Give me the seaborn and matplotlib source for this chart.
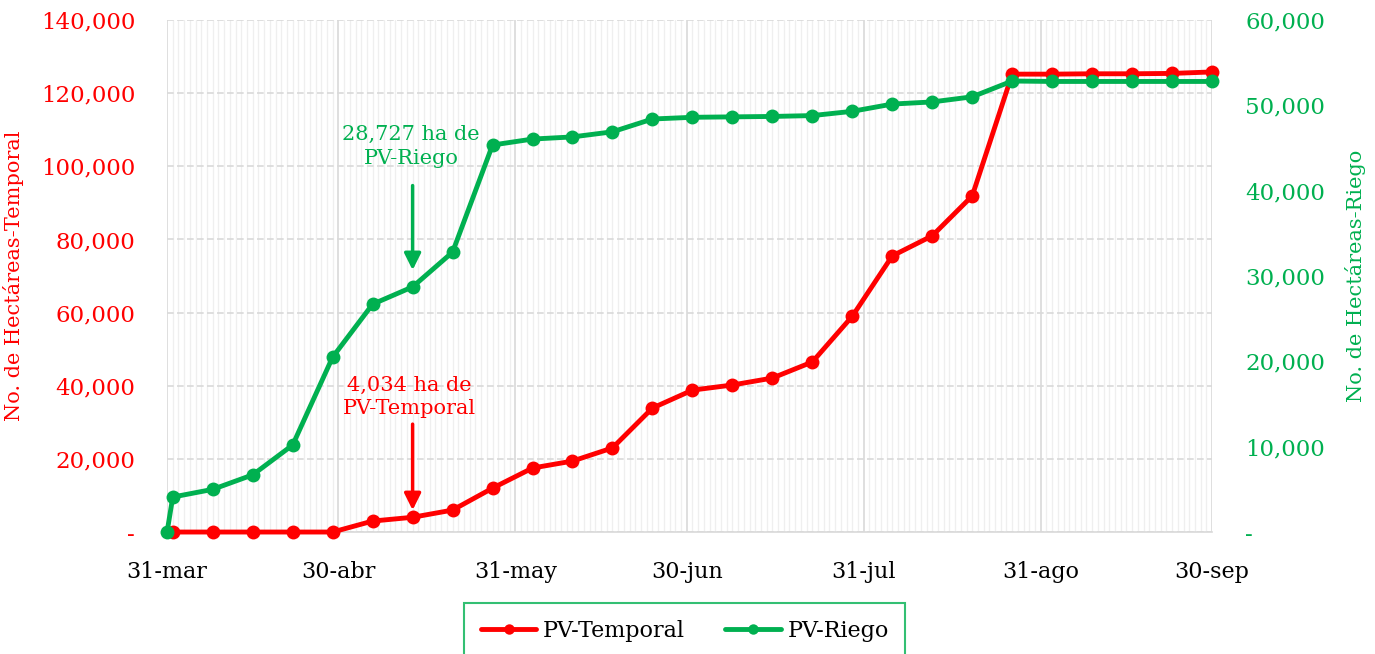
import pandas as pd
import seaborn as sns
import matplotlib.pyplot as plt
import matplotlib.dates as mdates
from matplotlib.ticker import FixedLocator, FuncFormatter

# fechas semanales (1-abr ... 30-sep)
fechas = pd.date_range('2023-04-01', '2023-09-30', freq='7D')

temporal = [0, 0, 0, 0, 0, 3000, 4034, 6000, 12000, 17500, 19400, 23000, 33900,
            38800, 40200, 42100, 46500, 59000, 75500, 81000, 91900, 125200,
            125200, 125300, 125300, 125400, 125800]

riego_fechas = [pd.Timestamp('2023-03-31')] + list(fechas)
riego = [0, 4100, 5000, 6700, 10200, 20500, 26700, 28727, 32800, 45350, 46050,
         46300, 46900, 48400, 48600, 48650, 48700, 48800, 49300, 50150, 50400,
         51000, 52850, 52800, 52800, 52800, 52800, 52800]

mes_ticks = ['2023-03-31', '2023-04-30', '2023-05-31', '2023-06-30',
             '2023-07-31', '2023-08-31', '2023-09-30']
mes_labels = ['31-mar', '30-abr', '31-may', '30-jun', '31-jul', '31-ago', '30-sep']

ROJO = '#FF0000'
VERDE = '#00B050'

sns.set_style('white')
plt.rcParams['font.family'] = ['DejaVu Serif']
plt.rcParams['font.size'] = 14

df_t = pd.DataFrame({'fecha': fechas, 'ha': temporal})
df_r = pd.DataFrame({'fecha': riego_fechas, 'ha': riego})

fig, ax = plt.subplots(figsize=(13.75, 6.54), dpi=100)
fig.subplots_adjust(left=0.1215, right=0.8815, top=0.9694, bottom=0.1865)
ax2 = ax.twinx()

sns.lineplot(data=df_t, x='fecha', y='ha', ax=ax, color=ROJO, marker='o',
             markersize=10, markeredgewidth=0, linewidth=3.5, label='PV-Temporal',
             legend=False, clip_on=False, zorder=5)
sns.lineplot(data=df_r, x='fecha', y='ha', ax=ax2, color=VERDE, marker='o',
             markersize=10, markeredgewidth=0, linewidth=3.5, label='PV-Riego',
             legend=False, clip_on=False, zorder=5)

x0, x1 = mdates.date2num(pd.Timestamp(mes_ticks[0])), mdates.date2num(pd.Timestamp(mes_ticks[-1]))
ax.set_xlim(x0, x1)
ax.set_ylim(0, 140000)
ax2.set_ylim(0, 60000)

fmt = FuncFormatter(lambda v, p: '-' if v == 0 else f'{v:,.0f}')
ax.set_yticks(range(0, 140001, 20000))
ax2.set_yticks(range(0, 60001, 10000))
ax.yaxis.set_major_formatter(fmt)
ax2.yaxis.set_major_formatter(fmt)

ax.xaxis.set_major_locator(FixedLocator([mdates.date2num(pd.Timestamp(t)) for t in mes_ticks]))
ax.set_xticklabels(mes_labels)
ax.xaxis.set_minor_locator(mdates.DayLocator())

ax.grid(which='minor', axis='x', color='#efefef', linewidth=0.9)
ax.grid(which='major', axis='x', color='#d9d9d9', linewidth=1.2)
ax.grid(which='major', axis='y', color='#d9d9d9', linewidth=1.2, linestyle=(0, (4, 2)))
ax.set_axisbelow(True)

for a in (ax, ax2):
    for s in a.spines.values():
        s.set_visible(False)
ax.spines['bottom'].set_visible(True)
ax.spines['bottom'].set_color('#d9d9d9')
ax.spines['bottom'].set_linewidth(1.2)

ax.tick_params(axis='x', which='major', length=8, color='#d9d9d9', width=1.2,
               labelsize=16, labelcolor='black', pad=13)
ax.tick_params(axis='x', which='minor', length=0)
ax.tick_params(axis='y', length=0, labelsize=16.5, labelcolor=ROJO, pad=23)
ax2.tick_params(axis='y', length=0, labelsize=16.5, labelcolor=VERDE, pad=24)

ax.set_xlabel('')
ax.set_ylabel('No. de Hectáreas-Temporal', color=ROJO, fontsize=15, labelpad=12)
ax2.set_ylabel('No. de Hectáreas-Riego', color=VERDE, fontsize=15, labelpad=14)

# anotaciones
d_ann = mdates.date2num(pd.Timestamp('2023-05-13'))
ax2.text(d_ann - 0.3, 45200, '28,727 ha de\nPV-Riego', color=VERDE, fontsize=15,
         ha='center', va='center', linespacing=1.3)
ax2.annotate('', xy=(d_ann, 30700), xytext=(d_ann, 40600),
             arrowprops=dict(arrowstyle='-|>', color=VERDE, lw=2.5, mutation_scale=25,
                             shrinkA=0, shrinkB=0))
ax.text(d_ann - 0.5, 37000, '4,034 ha de\nPV-Temporal', color=ROJO, fontsize=15,
        ha='center', va='center', linespacing=1.3)
ax.annotate('', xy=(d_ann, 6000), xytext=(d_ann, 29500),
            arrowprops=dict(arrowstyle='-|>', color=ROJO, lw=2.5, mutation_scale=25,
                            shrinkA=0, shrinkB=0))

h1, l1 = ax.get_legend_handles_labels()
h2, l2 = ax2.get_legend_handles_labels()
leg = fig.legend(h1 + h2, l1 + l2, loc='upper center', bbox_to_anchor=(0.498, 0.078),
                 ncol=2, fancybox=False, frameon=True, fontsize=16, handlelength=2.5,
                 handletextpad=0.3, markerscale=0.75, columnspacing=1.8,
                 borderpad=0.75, borderaxespad=0)
leg.get_frame().set_edgecolor(VERDE)
leg.get_frame().set_linewidth(1.5)
for t in leg.get_texts():
    t.set_color('black')

fig.savefig('out.png', dpi=100)
